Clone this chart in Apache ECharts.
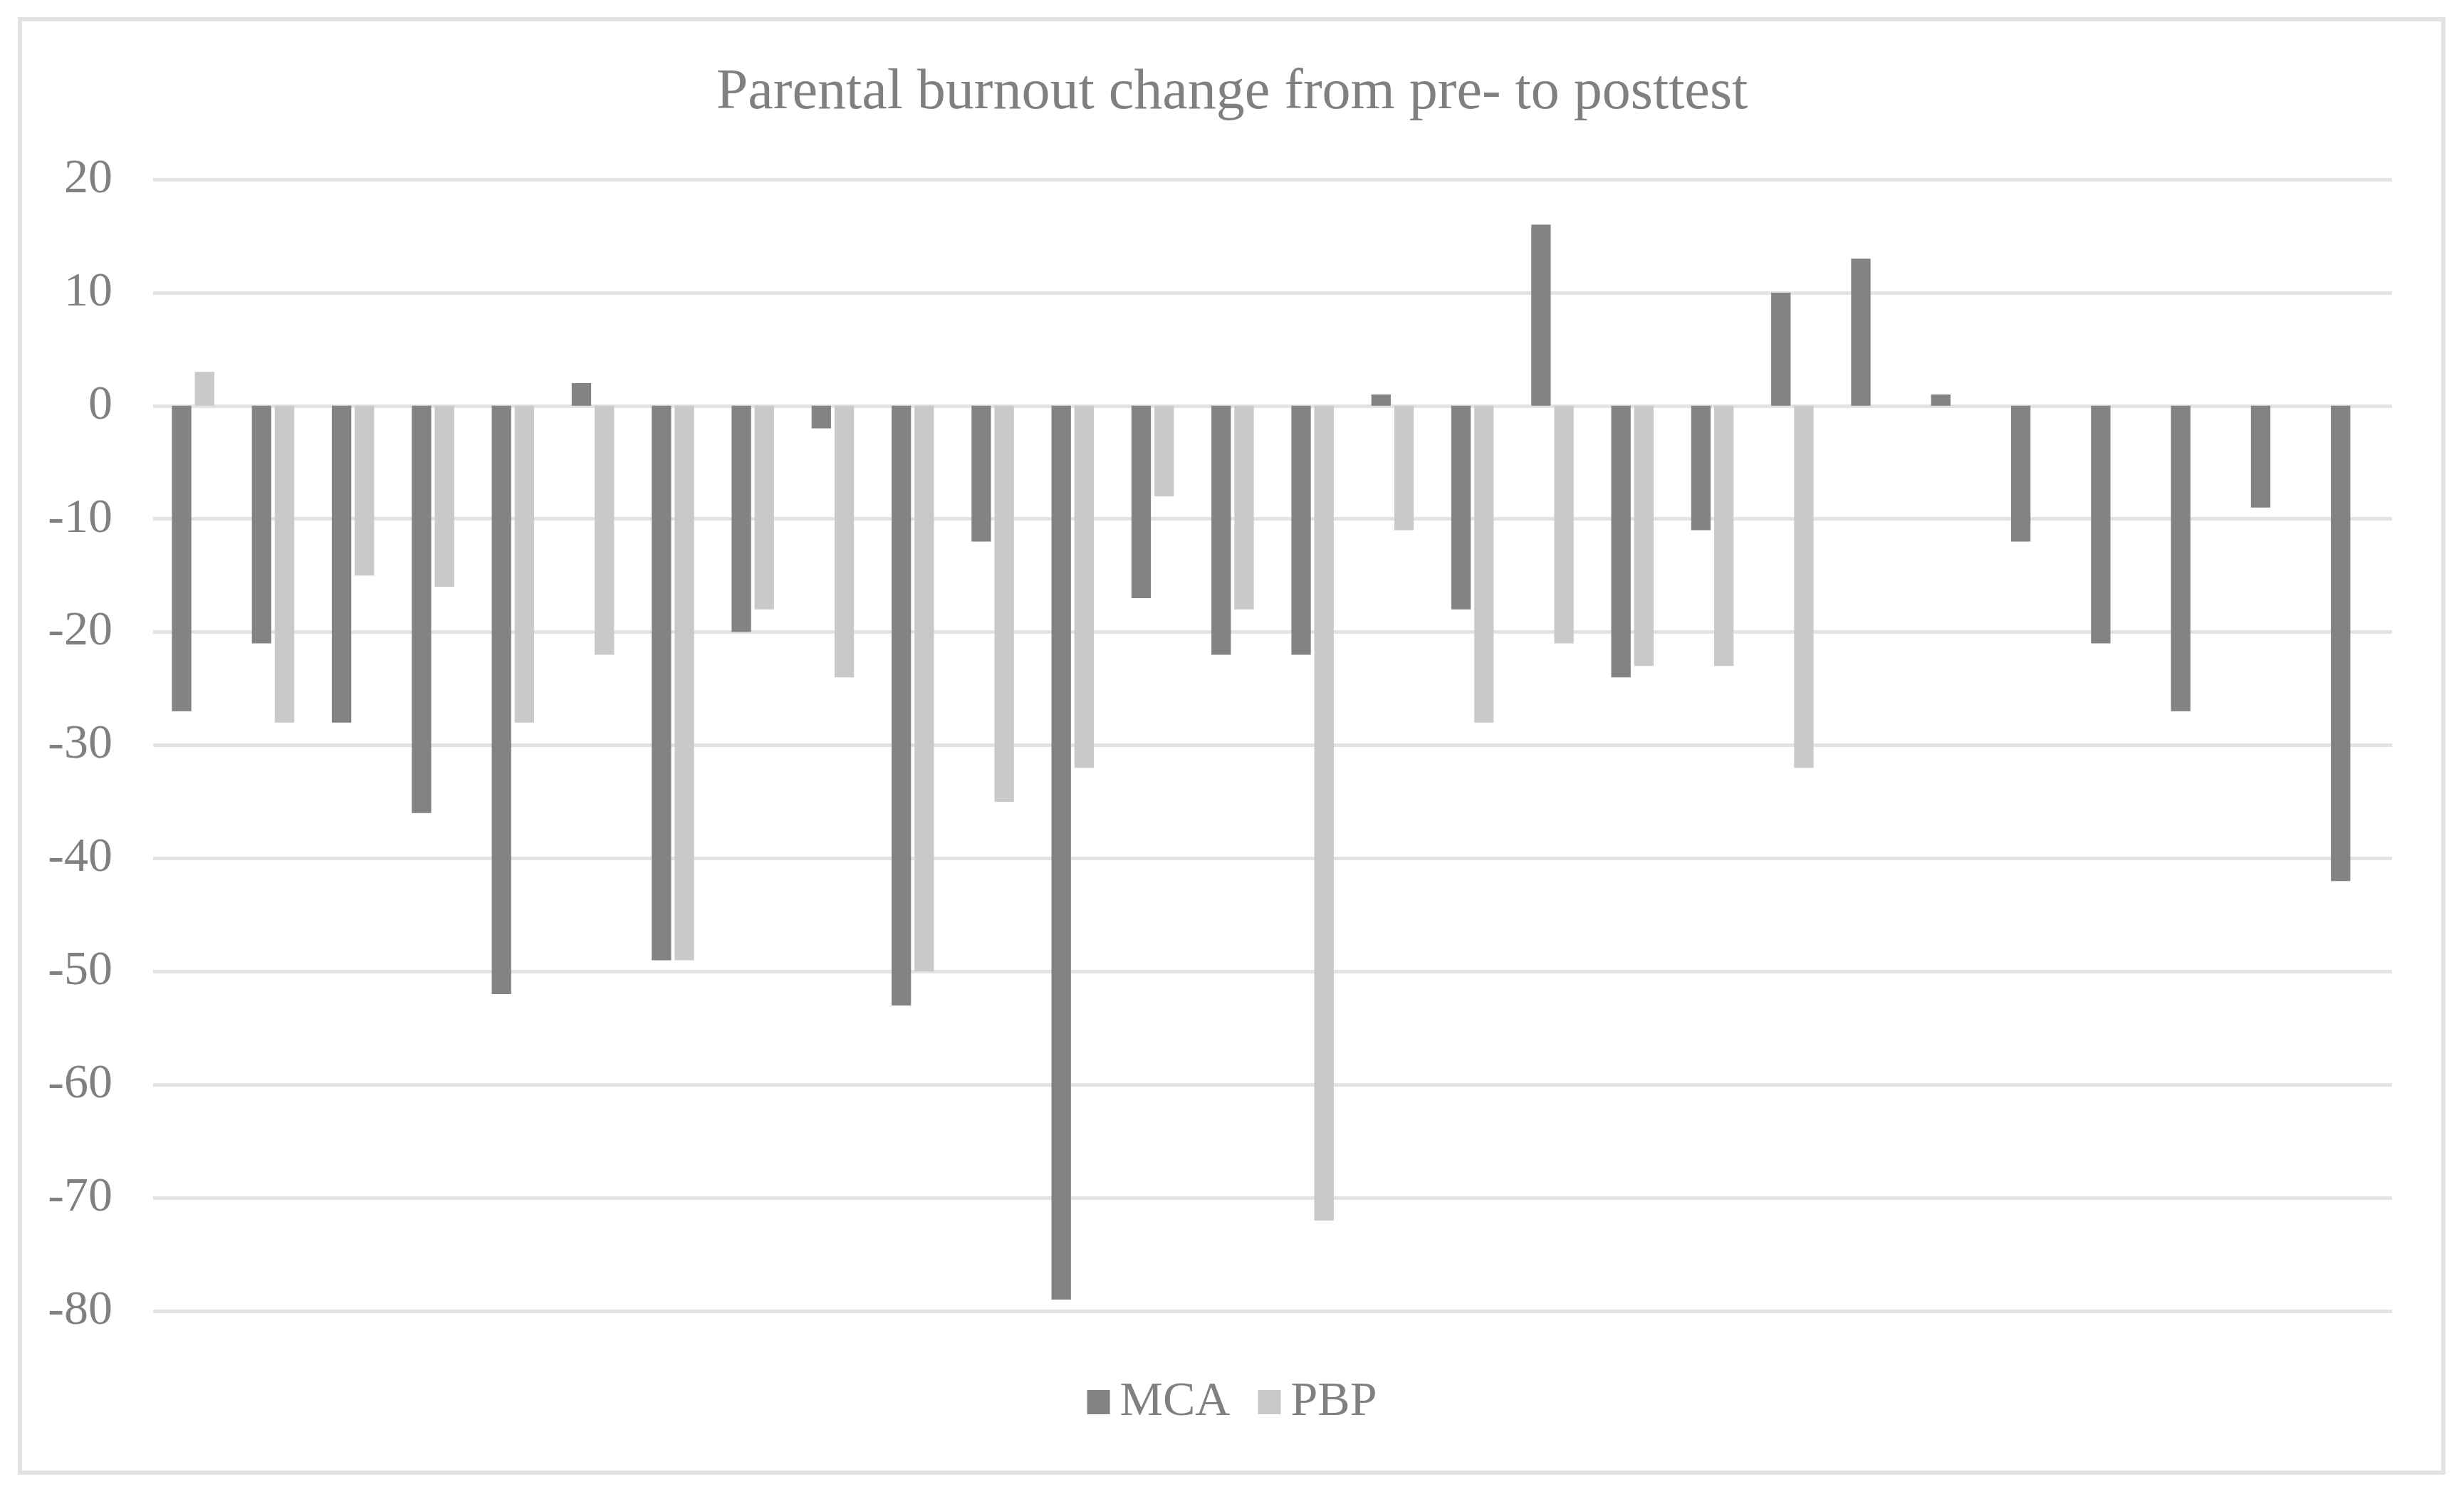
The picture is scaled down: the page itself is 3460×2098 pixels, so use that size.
<!DOCTYPE html>
<html>
<head>
<meta charset="utf-8">
<script src="https://cdn.jsdelivr.net/npm/echarts@6/dist/echarts.min.js"></script>
<style>
  html, body { margin: 0; padding: 0; background: #ffffff; }
  #chart { width: 3460px; height: 2098px; }
</style>
</head>
<body>
<div id="chart"></div>
<script>
const titleText = 'Parental burnout change from pre- to posttest';
const categories = ['1','2','3','4','5','6','7','8','9','10','11','12','13','14','15','16','17','18','19','20','21','22','23','24','25','26','27','28'];
const seriesNames = ['MCA', 'PBP'];
const mcaValues = [-27, -21, -28, -36, -52, 2, -49, -20, -2, -53, -12, -79, -17, -22, -22, 1, -18, 16, -24, -11, 10, 13, 1, -12, -21, -27, -9, -42];
const pbpValues = [3, -28, -15, -16, -28, -22, -49, -18, -24, -50, -35, -32, -8, -18, -72, -11, -28, -21, -23, -23, -32, null, null, null, null, null, null, null];
const yTicks = { min: -80, max: 20, interval: 10 };

const font = "'Liberation Serif', 'Times New Roman', serif";
const textColor = '#808080';
const gridColor = '#E3E3E3';

const chart = echarts.init(document.getElementById('chart'), null, { renderer: 'canvas' });
chart.setOption({
  animation: false,
  backgroundColor: '#ffffff',
  title: {
    text: titleText,
    left: 'center',
    top: 86,
    textStyle: { fontFamily: font, fontSize: 80, fontWeight: 'normal', color: textColor }
  },
  legend: {
    data: seriesNames,
    left: 'center',
    top: 1930,
    itemWidth: 32,
    itemHeight: 34,
    itemGap: 39,
    icon: 'rect',
    textStyle: { fontFamily: font, fontSize: 68, color: textColor, padding: [0, 0, 0, 9] }
  },
  grid: { left: 215, right: 101, top: 252, bottom: 257, containLabel: false },
  xAxis: {
    type: 'category',
    data: categories,
    axisLine: { show: false },
    axisTick: { show: false },
    axisLabel: { show: false },
    splitLine: { show: false }
  },
  yAxis: {
    type: 'value',
    min: yTicks.min,
    max: yTicks.max,
    interval: yTicks.interval,
    axisLine: { show: false },
    axisTick: { show: false },
    axisLabel: { fontFamily: font, fontSize: 68, color: textColor, margin: 57 },
    splitLine: { show: true, lineStyle: { color: gridColor, width: 5 } }
  },
  graphic: [{
    type: 'rect',
    shape: { x: 28, y: 27, width: 3403, height: 2041 },
    style: { fill: null, stroke: gridColor, lineWidth: 6 },
    silent: true,
    z: 100
  }],
  series: [
    {
      name: seriesNames[0],
      type: 'bar',
      data: mcaValues,
      barGap: '18%',
      barCategoryGap: '47%',
      itemStyle: { color: '#838383' }
    },
    {
      name: seriesNames[1],
      type: 'bar',
      data: pbpValues,
      barGap: '18%',
      barCategoryGap: '47%',
      itemStyle: { color: '#C9C9C9' }
    }
  ]
});
</script>
</body>
</html>
